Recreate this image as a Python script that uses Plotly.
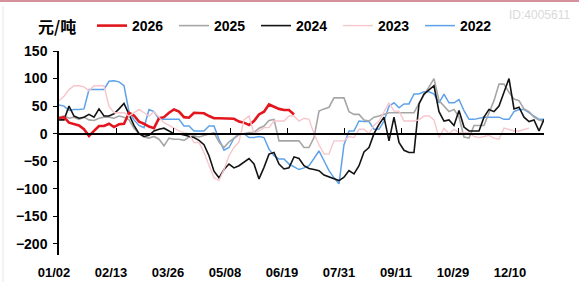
import plotly.graph_objects as go

# x-axis categories (label text) placed every ~11.4 sample steps
tick_labels = ["01/02", "02/13", "03/26", "05/08", "06/19", "07/31", "09/11", "10/29", "12/10"]

s2026 = [28, 30, 20, 18, 15, 8, -4, 5, 14, 14, 18, 12, 17, 18, 38, 33, 22, 18, 13, 10,
         28, 30, 38, 44, 40, 30, 29, 38, 38, 37, 32, 28, 28, 28, 28, 27, 22, 20, 16, 23,
         35, 40, 53, 49, 45, 43, 43, 35]

s2025 = [30, 32, 28, 30, 26, 30, 25, 24, 28, 30, 30, 28, 32, 30, 25, 10, 0, -6, -8, -5,
         -10, -22, -8, -10, -10, -12, -6, -4, -6, -3, 0, 2, -15, -25, -15, -8, -2, 0, 2, 2,
         10, 14, 24, 26, -13, -13, -13, -13, -13, -25, -25, -7, 41, 45, 48, 65, 65, 65, 40, 35,
         35, 25, 23, 30, 32, 35, 38, 38, 38, 38, 38, 38, 55, 70, 85, 100, 60, 50, 40, 44,
         30, -6, -8, 15, 15, 15, 38, 60, 90, 90, 75, 63, 60, 45, 40, 30, 25, 22]

s2024 = [25, 25, 50, 32, 28, 30, 35, 30, 45, 32, 32, 36, 45, 55, 35, 15, 0, -5, -3, 5,
         8, 10, 5, 0, 0, -2, -4, -7, -12, -20, -40, -68, -80, -65, -55, -62, -58, -52, -45, -55,
         -82, -61, -37, -34, -55, -64, -62, -42, -45, -58, -63, -65, -67, -75, -78, -82, -85, -79, -67, -73,
         -58, -33, -25, 0, 17, 30, -13, 30, -16, -30, -34, -34, 54, 72, 80, 87, 40, 23, 25, 15,
         42, 12, 5, 5, 5, 30, 44, 40, 50, 75, 100, 45, 48, 30, 22, 25, 5, 26]

s2023 = [60, 68, 80, 87, 87, 85, 78, 87, 87, 87, 50, 38, 38, 38, 32, 38, 44, 38, 32, 40,
         30, 20, 15, 10, 5, 2, 0, -16, -16, -34, -58, -80, -85, -65, -40, -25, -15, 25, 32, 0,
         5, 11, 11, 23, 23, 23, 32, 32, 23, 28, 26, 0, -20, -37, -37, -13, -13, -13, -5, -7,
         8, 8, 0, 15, 23, 40, 56, 41, 41, 23, 23, 23, 25, 32, 32, 25, -7, 10, 0, 8,
         2, 2, 2, -5, -7, -5, -3, -8, -10, 10, 8, 5, 5, 8, 10]

s2022 = [52, 50, 42, 44, 44, 45, 80, 80, 80, 80, 95, 96, 94, 87, 40, 25, 15, 11, 44, 40,
         26, 26, 26, 26, 26, 14, 14, 5, 5, 5, 14, 14, -10, -30, -25, -8, 0, 0, -7, -7,
         -5, -7, -28, -40, -46, -46, -55, -60, -65, -62, -58, -45, -31, -49, -67, -80, -91, -20, 5, 5,
         23, 22, 22, 8, 8, 23, 50, 56, 47, 54, 54, 72, 72, 76, 76, 72, 56, 72, 56, 56,
         62, 42, 26, 26, 28, 30, 30, 30, 30, 26, 26, 40, 44, 44, 38, 32, 26, 26]

N = 98
STEP = 11.4
tick_pos = [STEP * k for k in range(len(tick_labels))]

# (name, values, colour, width, legend rank, x axis)
series = [
    ("2023", s2023, "#f7c6cd", 1.4, 4, "x2"),
    ("2022", s2022, "#5ea3ea", 1.5, 5, "x"),
    ("2025", s2025, "#a6a6a6", 1.6, 2, "x"),
    ("2024", s2024, "#141414", 1.6, 3, "x"),
    ("2026", s2026, "#e3161e", 2.6, 1, "x"),
]

fig = go.Figure()
for name, vals, color, width, rank, xa in series:
    fig.add_trace(go.Scatter(
        x=list(range(len(vals))), y=vals, name=name, mode="lines", xaxis=xa, yaxis="y",
        line=dict(color=color, width=width), legendrank=rank,
    ))

FONT = "Liberation Sans"
y_lo, y_hi = -220, 150
PLOT_H = 282 - 51 - 27
PLOT_W = 579 - 59 - 35

fig.update_layout(
    width=579, height=282,
    margin=dict(l=59, r=35, t=51, b=27, autoexpand=False),
    paper_bgcolor="white", plot_bgcolor="white",
    font=dict(family=FONT, color="#000000"),
    showlegend=True,
    legend=dict(
        orientation="h", x=(92 - 59) / PLOT_W, y=1.0 + 25 / PLOT_H, xanchor="left", yanchor="middle",
        font=dict(family=FONT, size=14, color="#000000", weight="bold"),
        entrywidth=37, itemwidth=30, tracegroupgap=0, bgcolor="rgba(0,0,0,0)",
    ),
    xaxis=dict(
        range=[0, N - 1], showgrid=False, zeroline=False, showline=False,
        tickmode="array", tickvals=tick_pos, ticktext=tick_labels, ticks="",
        ticklabelshift=-5, ticklabelstandoff=8,
        tickfont=dict(family=FONT, size=13, color="#000000", weight="bold"),
    ),
    xaxis2=dict(
        overlaying="x", anchor="free", position=(0 - y_lo) / (y_hi - y_lo),
        range=[0, N - 1], showgrid=False, zeroline=False,
        showline=True, linecolor="#000000", linewidth=1.5,
        tickmode="array", tickvals=tick_pos + [N - 1], ticks="inside", ticklen=5,
        tickwidth=1.2, tickcolor="#000000", showticklabels=False, side="bottom",
    ),
    yaxis=dict(
        range=[y_lo, y_hi], showgrid=False, zeroline=False,
        showline=True, linecolor="#000000", linewidth=1.5,
        tickmode="array", tickvals=[150, 100, 50, 0, -50, -100, -150, -200],
        ticktext=["150", "100", "50", "0", "\u2212" + "50", "\u2212" + "100", "\u2212" + "150", "\u2212" + "200"],
        ticks="outside", ticklen=4, tickwidth=1.2, tickcolor="#000000", ticklabelstandoff=3,
        tickfont=dict(family=FONT, size=14, color="#000000", weight="bold"),
    ),
    annotations=[
        dict(text="元/吨", xref="paper", yref="paper", x=(36 - 59) / PLOT_W, y=1.0 + 25 / PLOT_H,
             xanchor="left", yanchor="middle", showarrow=False,
             font=dict(family="Noto Sans CJK SC", size=16, color="#000000", weight="bold")),
        dict(text="ID:4005611", xref="paper", yref="paper", x=(507 - 59) / PLOT_W, y=1.0 + 36 / PLOT_H,
             xanchor="left", yanchor="middle", showarrow=False,
             font=dict(family=FONT, size=12, color="#d9d9d9")),
    ],
    shapes=[
        dict(type="line", xref="paper", yref="paper", x0=-59 / PLOT_W, x1=520 / PLOT_W,
             y0=1.0 + 50 / PLOT_H, y1=1.0 + 50 / PLOT_H, line=dict(color="#d4939c", width=2)),
        dict(type="line", xref="paper", yref="paper", x0=-56 / PLOT_W, x1=-56 / PLOT_W,
             y0=1.0 + 45 / PLOT_H, y1=-27 / PLOT_H, line=dict(color="#e6e6e6", width=1)),
    ],
)

fig.write_html("out.html", config={"displayModeBar": False},
               post_script="document.body.style.margin='0';")
